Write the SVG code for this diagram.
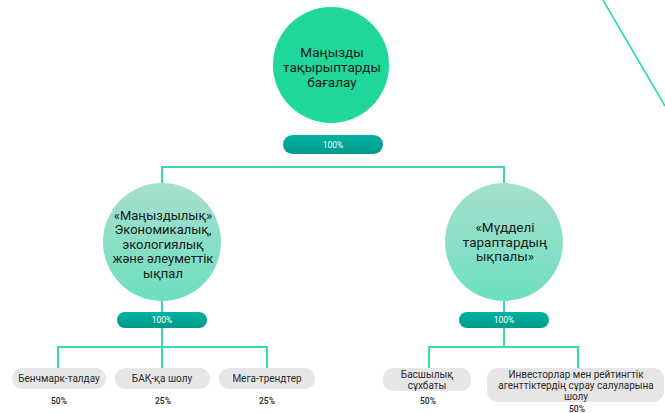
<svg xmlns="http://www.w3.org/2000/svg" width="665" height="413" viewBox="0 0 665 413">
<defs>
<linearGradient id="gMid" x1="0" y1="0" x2="0" y2="1">
<stop offset="0" stop-color="#a7dfce"/>
<stop offset="1" stop-color="#6ddfc0"/>
</linearGradient>
<linearGradient id="gPill" x1="0" y1="0" x2="0" y2="1">
<stop offset="0" stop-color="#00b3a1"/>
<stop offset="1" stop-color="#00998b"/>
</linearGradient>
<style>
.ln{fill:none;stroke:#35dcaa;stroke-width:2}
.ct{font-family:Roboto,"Noto Sans",sans-serif;font-size:13.5px;fill:#1a1a1a;text-anchor:middle}
.cs{font-size:13px}
.pill{fill:url(#gPill)}
.pt{font-family:Roboto,"Noto Sans",sans-serif;font-size:8.5px;fill:#ffffff;text-anchor:middle}
.box{fill:#e6e6e6}
.bt{font-family:Roboto,"Noto Sans",sans-serif;font-size:10px;fill:#2a2a2a;text-anchor:middle}
.pc{font-family:Roboto,"Noto Sans",sans-serif;font-size:8.5px;font-weight:500;fill:#222222;text-anchor:middle}
</style>
</defs>
<rect width="665" height="413" fill="#ffffff"/>
<line x1="603" y1="0" x2="665" y2="106" stroke="#22dca0" stroke-width="1.5"/>
<g id="connectors">
<polyline class="ln" points="162,183 162,167 504,167 504,183"/>
<line class="ln" x1="162" y1="300" x2="162" y2="347"/>
<polyline class="ln" points="58,368 58,347 267,347 267,368"/>
<line class="ln" x1="162" y1="347" x2="162" y2="368"/>
<line class="ln" x1="504" y1="298" x2="504" y2="347"/>
<polyline class="ln" points="429,368 429,347 578,347 578,368"/>
</g>
<g id="top">
<circle cx="331" cy="65" r="58" fill="#1fd79b"/>
<text class="ct" x="332" y="57">Маңызды</text>
<text class="ct" x="332" y="72">тақырыптарды</text>
<text class="ct" x="332" y="87">бағалау</text>
</g>
<g id="top-pct">
<rect class="pill" x="283" y="135" width="100" height="19" rx="9.5"/>
<text class="pt" x="333" y="147.5">100%</text>
</g>
<g id="mid-left">
<circle cx="162" cy="242" r="59" fill="url(#gMid)"/>
<text class="ct cs" x="163" y="219.5">«Маңыздылық»</text>
<text class="ct cs" x="163" y="234">Экономикалық,</text>
<text class="ct cs" x="163" y="248.5">экологиялық</text>
<text class="ct cs" x="163" y="263">және әлеуметтік</text>
<text class="ct cs" x="163" y="277.5">ықпал</text>
</g>
<g id="mid-left-pct">
<rect class="pill" x="117" y="312" width="90" height="16" rx="8"/>
<text class="pt" x="162" y="323">100%</text>
</g>
<g id="mid-right">
<circle cx="504" cy="242" r="59" fill="url(#gMid)"/>
<text class="ct" x="505" y="232">«Мүдделі</text>
<text class="ct" x="505" y="246.5">тараптардың</text>
<text class="ct" x="505" y="261">ықпалы»</text>
</g>
<g id="mid-right-pct">
<rect class="pill" x="459" y="312" width="90" height="16" rx="8"/>
<text class="pt" x="504" y="323">100%</text>
</g>
<g id="bench">
<rect class="box" x="12" y="368" width="94" height="21" rx="10"/>
<text class="bt" x="59" y="382">Бенчмарк-талдау</text>
<text class="pc" x="59" y="404">50%</text>
</g>
<g id="bak">
<rect class="box" x="115" y="368" width="95" height="21" rx="10"/>
<text class="bt" x="162" y="382">БАҚ-қа шолу</text>
<text class="pc" x="163" y="404">25%</text>
</g>
<g id="mega">
<rect class="box" x="219" y="368" width="96" height="21" rx="10"/>
<text class="bt" x="267" y="382">Мега-трендтер</text>
<text class="pc" x="267" y="404">25%</text>
</g>
<g id="basshy">
<rect class="box" x="383" y="368" width="88" height="23" rx="10"/>
<text class="bt" x="427" y="378">Басшылық</text>
<text class="bt" x="427" y="388.5">сұхбаты</text>
<text class="pc" x="428" y="404">50%</text>
</g>
<g id="invest">
<rect class="box" x="487" y="368" width="177" height="34" rx="11"/>
<text class="bt" x="576" y="378">Инвесторлар мен рейтингтік</text>
<text class="bt" x="576" y="389">агенттіктердің сұрау салуларына</text>
<text class="bt" x="576" y="400">шолу</text>
<text class="pc" x="577" y="412">50%</text>
</g>
</svg>
